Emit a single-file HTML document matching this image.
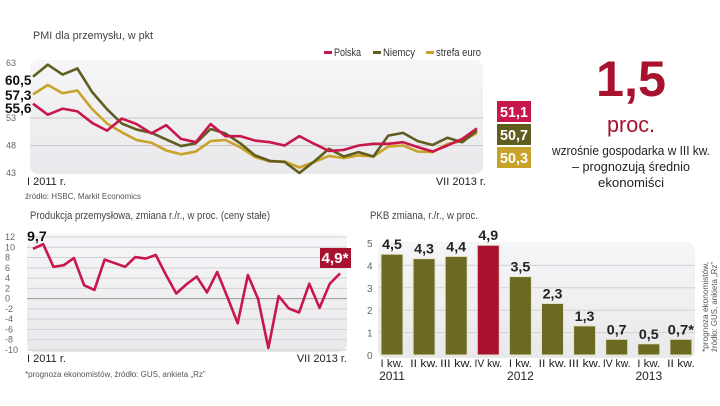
<!DOCTYPE html>
<html><head><meta charset="utf-8"><style>
body{margin:0;width:720px;height:406px;background:#fff;overflow:hidden;font-family:"Liberation Sans",sans-serif}
svg{position:absolute;left:0;top:0}
</style></head><body>
<svg width="720" height="406">
<defs><linearGradient id="bg" x1="0" x2="0" y1="0" y2="1"><stop offset="0" stop-color="#f6f6f8"/><stop offset="1" stop-color="#e9e9ec"/></linearGradient></defs>
<g id="pmi"></g>
<g id="prod"></g>
<g id="pkb"></g>
<g text-anchor="middle">
<text x="631" y="96" font-size="50" font-weight="bold" fill="#a8122e" textLength="70" lengthAdjust="spacingAndGlyphs">1,5</text>
<text x="631" y="132" font-size="22" fill="#a8122e" textLength="48" lengthAdjust="spacingAndGlyphs">proc.</text>
<text x="631" y="155" font-size="13" fill="#222" textLength="158" lengthAdjust="spacingAndGlyphs">wzrośnie gospodarka w III kw.</text>
<text x="631" y="171" font-size="13" fill="#222" textLength="118" lengthAdjust="spacingAndGlyphs">– prognozują średnio</text>
<text x="631" y="187" font-size="13" fill="#222" textLength="66" lengthAdjust="spacingAndGlyphs">ekonomiści</text>
</g>
</svg>
<script>
const pmiPolska=[55.6,53.6,54.7,54.2,52.1,50.7,52.9,51.9,50.2,51.7,49.2,48.6,51.9,49.7,49.7,48.9,48.6,48.0,49.7,48.3,47.0,47.2,48.0,48.3,48.3,48.6,47.7,46.9,48.0,49.2,51.1];
const pmiNiemcy=[60.5,62.7,60.9,62.0,57.7,54.6,52.0,50.9,50.3,49.1,47.9,48.4,51.0,50.2,48.4,46.2,45.2,45.0,43.0,45.1,47.4,46.0,46.8,46.0,49.8,50.3,48.8,48.1,49.4,48.6,50.7];
const pmiEuro=[57.3,59.0,57.5,58.0,54.6,52.0,50.4,49.0,48.5,47.1,46.4,46.9,48.8,49.0,47.7,45.9,45.1,45.1,44.0,45.0,46.1,45.7,46.2,46.0,47.8,48.0,46.9,46.8,48.3,48.8,50.3];
const pmiTicks=[63,53,48,43];
const prodValues=[9.7,10.6,6.2,6.5,7.9,2.6,1.7,7.6,6.9,6.2,8.1,7.8,8.5,4.6,1.0,2.8,4.3,1.2,5.2,0.3,-4.8,4.6,-0.1,-9.6,0.5,-1.9,-2.7,2.9,-1.8,2.9,4.9];
const prodTicks=[12,10,8,6,4,2,0,-2,-4,-6,-8,-10];
const pkbCats=[["I kw.","2011"],["II kw.",""],["III kw.",""],["IV kw.",""],["I kw.","2012"],["II kw.",""],["III kw.",""],["IV kw.",""],["I kw.","2013"],["II kw.",""]];
const pkbValues=[4.5,4.3,4.4,4.9,3.5,2.3,1.3,0.7,0.5,0.7];
const pkbLabels=["4,5","4,3","4,4","4,9","3,5","2,3","1,3","0,7","0,5","0,7*"];
const pkbTicks=[0,1,2,3,4,5];
const NS="http://www.w3.org/2000/svg";
function mk(p,tag,a,txt){const e=document.createElementNS(NS,tag);for(const k in a)e.setAttribute(k,a[k]);if(txt!==undefined)e.textContent=txt;p.appendChild(e);return e;}
function narrow(e,s){e.setAttribute('textLength',s.length*6.6);e.setAttribute('lengthAdjust','spacingAndGlyphs');}
const RED="#c8174a",OLV="#5f5e1f",GLD="#c9a229";
// PMI
(function(){const g=document.getElementById('pmi');
const x=i=>33+i*(444/30), y=v=>63+(63-v)*5.5;
const t=mk(g,'text',{x:33,y:39,'font-size':11,fill:'#444',textLength:120,lengthAdjust:'spacingAndGlyphs'},'PMI dla przemysłu, w pkt');
const bg=mk(g,'rect',{x:30,y:60,width:453,height:114,rx:8,fill:'url(#bg)'});
pmiTicks.forEach(v=>{if(v!==63&&v!==43){const l=mk(g,'line',{x1:30,x2:483,y1:y(v),y2:y(v),stroke:'#c8c8cc','stroke-width':1});}
const tt=mk(g,'text',{x:6,y:y(v)+3,'font-size':9,fill:'#666'},String(v));});
[[pmiEuro,GLD,'pmi-line-euro'],[pmiNiemcy,OLV,'pmi-line-niemcy'],[pmiPolska,RED,'pmi-line-polska']].forEach(([d,c,n])=>{const p=mk(g,'polyline',{points:d.map((v,i)=>x(i)+','+y(v)).join(' '),fill:'none',stroke:c,'stroke-width':2.6,'stroke-linejoin':'round'});});
[[85,'60,5'],[100,'57,3'],[113,'55,6']].forEach(([yy,s])=>{const tt=mk(g,'text',{x:5,y:yy,'font-size':14,'font-weight':'bold',fill:'#111'},s);narrow(tt,s);});
[[RED,pmiPolska,101],[OLV,pmiNiemcy,124],[GLD,pmiEuro,147]].forEach(([c,d,yy])=>{const r=mk(g,'rect',{x:497,y:yy,width:34,height:21,fill:c});
const s=d[d.length-1].toFixed(1).replace('.',',');
const tt=mk(g,'text',{x:514,y:yy+16,'font-size':15,'font-weight':'bold',fill:'#fff','text-anchor':'middle',textLength:28,lengthAdjust:'spacingAndGlyphs'},s);});
[['Polska',RED,334,27],['Niemcy',OLV,383,32],['strefa euro',GLD,436,45]].forEach(([s,c,xx,w])=>{const r=mk(g,'rect',{x:xx-10,y:51,width:8,height:3,fill:c});const tt=mk(g,'text',{x:xx,y:56,'font-size':11,fill:'#333',textLength:w,lengthAdjust:'spacingAndGlyphs'},s);});
let a=mk(g,'text',{x:27,y:185,'font-size':11,fill:'#222'},'I 2011 r.');
a=mk(g,'text',{x:486,y:185,'font-size':11,fill:'#222','text-anchor':'end'},'VII 2013 r.');
a=mk(g,'text',{x:25,y:199,'font-size':8,fill:'#555'},'źródło: HSBC, Markit Economics');})();
// production
(function(){const g=document.getElementById('prod');
const x=i=>33+i*(307/30), y=v=>237+(12-v)*(113/22);
let a=mk(g,'text',{x:30,y:219,'font-size':11,fill:'#444',textLength:240,lengthAdjust:'spacingAndGlyphs'},'Produkcja przemysłowa, zmiana r./r., w proc. (ceny stałe)');
const bg=mk(g,'rect',{x:27,y:234,width:320,height:118,rx:8,fill:'url(#bg)'});
prodTicks.forEach(v=>{const l=mk(g,'line',{x1:27,x2:347,y1:y(v),y2:y(v),stroke:v===0?'#999':'#d2d2d6','stroke-width':1});
const tt=mk(g,'text',{x:5,y:y(v)+3,'font-size':9,fill:'#666'},String(v));});
const p=mk(g,'polyline',{points:prodValues.map((v,i)=>x(i)+','+y(v)).join(' '),fill:'none',stroke:RED,'stroke-width':2.6,'stroke-linejoin':'round'});
const s0=String(prodValues[0]).replace('.',',');
a=mk(g,'text',{x:27,y:241,'font-size':14,'font-weight':'bold',fill:'#111'},s0);narrow(a,s0);
const r=mk(g,'rect',{x:320,y:248,width:31,height:20,fill:'#a8122e'});
a=mk(g,'text',{x:335,y:263,'font-size':15,'font-weight':'bold',fill:'#fff','text-anchor':'middle',textLength:27,lengthAdjust:'spacingAndGlyphs'},String(prodValues[30]).replace('.',',')+'*');
a=mk(g,'text',{x:27,y:362,'font-size':11,fill:'#222'},'I 2011 r.');
a=mk(g,'text',{x:347,y:362,'font-size':11,fill:'#222','text-anchor':'end'},'VII 2013 r.');
a=mk(g,'text',{x:25,y:377,'font-size':8,fill:'#555'},'*prognoza ekonomistów, źródło: GUS, ankieta „Rz”');})();
// PKB
(function(){const g=document.getElementById('pkb');
const x=i=>392+i*32.1, y=v=>355-v*22.4;
let a=mk(g,'text',{x:370,y:219,'font-size':11,fill:'#444',textLength:108,lengthAdjust:'spacingAndGlyphs'},'PKB zmiana, r./r., w proc.');
const bg=mk(g,'rect',{x:378,y:242,width:317,height:116,rx:8,fill:'url(#bg)'});
pkbTicks.forEach(v=>{if(v>0&&v<5){const l=mk(g,'line',{x1:378,x2:695,y1:y(v),y2:y(v),stroke:'#d2d2d6','stroke-width':1});}
const tt=mk(g,'text',{x:367,y:y(v)+4,'font-size':10,fill:'#666'},String(v));});
pkbValues.forEach((v,i)=>{const b=mk(g,'rect',{x:x(i)-11,y:y(v),width:22,height:v*22.4,fill:i===3?'#a8122e':'#6b6a22',stroke:'#e8e4c8','stroke-width':1});
const l=mk(g,'text',{x:x(i),y:y(v)-5,'font-size':14,'font-weight':'bold',fill:'#222','text-anchor':'middle'},pkbLabels[i]);narrow(l,pkbLabels[i]);
const c=mk(g,'text',{x:x(i),y:367,'font-size':11,fill:'#222','text-anchor':'middle',textLength:pkbCats[i][0].length*4.6,lengthAdjust:'spacingAndGlyphs'},pkbCats[i][0]);
if(pkbCats[i][1]){const c2=mk(g,'text',{x:x(i),y:380,'font-size':12,fill:'#222','text-anchor':'middle'},pkbCats[i][1]);}});
a=mk(g,'text',{x:0,y:0,'font-size':8,fill:'#555',transform:'translate(708,352) rotate(-90)',textLength:90,lengthAdjust:'spacingAndGlyphs'},'*prognoza ekonomistów,');
a=mk(g,'text',{x:0,y:0,'font-size':8,fill:'#555',transform:'translate(717,352) rotate(-90)',textLength:90,lengthAdjust:'spacingAndGlyphs'},'źródło: GUS, ankieta „Rz”');})();
</script>
</body></html>
